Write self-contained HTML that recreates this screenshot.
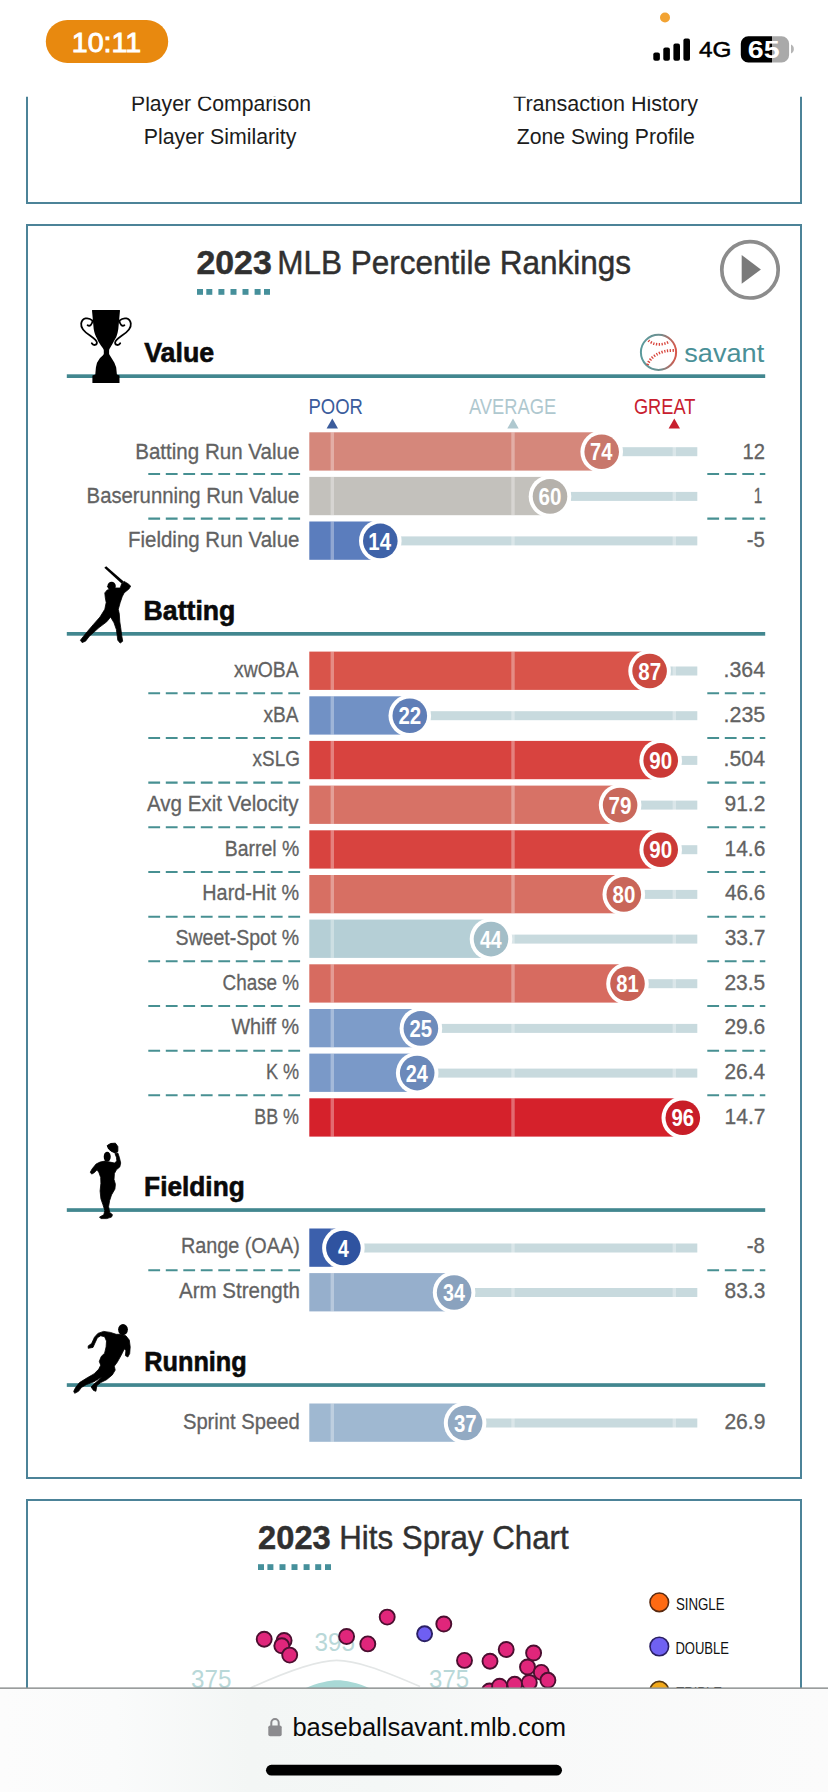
<!DOCTYPE html>
<html lang="en"><head><meta charset="utf-8"><title>Baseball Savant</title>
<style>
html,body{margin:0;padding:0;background:#fff;}
body{width:828px;height:1792px;overflow:hidden;position:relative;}
svg{display:block;position:absolute;left:0;top:0;}
text{font-family:"Liberation Sans",sans-serif;}
</style></head><body>
<svg width="828" height="1792" viewBox="0 0 828 1792">
<defs><linearGradient id="ballg" x1="0" y1="0" x2="1" y2="0"><stop offset="0" stop-color="#5a9a9c"/><stop offset="0.55" stop-color="#6e8f90"/><stop offset="1" stop-color="#d8574a"/></linearGradient><linearGradient id="barg" x1="0" y1="0" x2="1" y2="0"><stop offset="0" stop-color="#fcfcfc"/><stop offset="0.14" stop-color="#fafbfb"/><stop offset="0.3" stop-color="#f3f6f5"/><stop offset="0.46" stop-color="#f4f7f6"/><stop offset="0.62" stop-color="#f8f9f9"/><stop offset="1" stop-color="#fbfbfb"/></linearGradient><clipPath id="pageclip"><rect x="0" y="96.8" width="828" height="1591.4"/></clipPath></defs>
<rect width="828" height="1792" fill="#fff"/>
<g clip-path="url(#pageclip)">
<path d="M27 90V202.9H801V90" fill="none" stroke="#4c8398" stroke-width="2"/>
<rect x="27" y="225" width="774" height="1253" fill="none" stroke="#4c8398" stroke-width="2"/>
<path d="M27 1700V1500H801V1700" fill="none" stroke="#4c8398" stroke-width="2"/>
<text x="131.0" y="110.7" font-size="22" fill="#1c1c1c" textLength="180.1" lengthAdjust="spacingAndGlyphs">Player Comparison</text>
<text x="143.7" y="143.8" font-size="22" fill="#1c1c1c" textLength="152.7" lengthAdjust="spacingAndGlyphs">Player Similarity</text>
<text x="513.0" y="110.7" font-size="22" fill="#1c1c1c" textLength="185.0" lengthAdjust="spacingAndGlyphs">Transaction History</text>
<text x="516.8" y="143.8" font-size="22" fill="#1c1c1c" textLength="178.1" lengthAdjust="spacingAndGlyphs">Zone Swing Profile</text>
</g>
<text x="196.4" y="274.0" font-size="34" font-weight="700" fill="#303030" textLength="75.4" lengthAdjust="spacingAndGlyphs" stroke="#303030" stroke-width="0.5">2023</text>
<text x="277.2" y="274.0" font-size="34" fill="#303030" textLength="353.9" lengthAdjust="spacingAndGlyphs" stroke="#303030" stroke-width="0.45">MLB Percentile Rankings</text>
<rect x="197.0" y="289" width="6" height="5.8" fill="#46909b"/>
<rect x="206.3" y="289" width="6" height="5.8" fill="#46909b"/>
<rect x="218.4" y="289" width="6" height="5.8" fill="#46909b"/>
<rect x="230.5" y="289" width="6" height="5.8" fill="#46909b"/>
<rect x="242.5" y="289" width="6" height="5.8" fill="#46909b"/>
<rect x="254.6" y="289" width="6" height="5.8" fill="#46909b"/>
<rect x="264.0" y="289" width="6" height="5.8" fill="#46909b"/>
<circle cx="750" cy="269.8" r="28.2" fill="none" stroke="#8c8c8c" stroke-width="3.7"/>
<path d="M741.7 255.1L760.9 269.4L741.7 283.7Z" fill="#7a7a7a"/>
<rect x="66.8" y="374.3" width="698.4" height="3.7" fill="#42878f"/>
<text x="144.2" y="361.8" font-size="28" font-weight="700" fill="#0a0a0a" textLength="70.0" lengthAdjust="spacingAndGlyphs" stroke="#0a0a0a" stroke-width="0.6">Value</text>
<text x="308.5" y="413.8" font-size="22" fill="#3b5c9c" textLength="54.4" lengthAdjust="spacingAndGlyphs">POOR</text>
<text x="469.0" y="413.8" font-size="22" fill="#afc8cf" textLength="87.3" lengthAdjust="spacingAndGlyphs">AVERAGE</text>
<text x="633.9" y="413.8" font-size="22" fill="#c8202f" textLength="61.5" lengthAdjust="spacingAndGlyphs">GREAT</text>
<path d="M326.6 428.4L332.3 418.6L338.0 428.4Z" fill="#3b5c9c"/>
<path d="M507.3 428.4L513.0 418.6L518.7 428.4Z" fill="#afc8cf"/>
<path d="M668.6 428.4L674.3 418.6L680.0 428.4Z" fill="#c8202f"/>
<rect x="601.7" y="447.2" width="95.6" height="9" fill="#c8dade"/>
<rect x="309.3" y="432.3" width="292.4" height="38.3" fill="#d5877b"/>
<rect x="330.6" y="432.3" width="3.4" height="38.3" fill="#fff" fill-opacity="0.33"/>
<rect x="511.3" y="432.3" width="3.4" height="38.3" fill="#fff" fill-opacity="0.33"/>
<rect x="672.6" y="432.3" width="3.4" height="38.3" fill="#fff" fill-opacity="0.33"/>
<circle cx="601.7" cy="451.8" r="21.3" fill="#fff"/>
<circle cx="601.7" cy="451.8" r="17.3" fill="#c8776b"/>
<text x="590.1" y="460.4" font-size="23" font-weight="700" fill="#fff" textLength="22.3" lengthAdjust="spacingAndGlyphs">74</text>
<text x="135.2" y="458.9" font-size="22.6" fill="#626262" textLength="164.2" lengthAdjust="spacingAndGlyphs" stroke="#626262" stroke-width="0.3">Batting Run Value</text>
<text x="742.6" y="458.9" font-size="22.6" fill="#626262" textLength="22.5" lengthAdjust="spacingAndGlyphs" stroke="#626262" stroke-width="0.3">12</text>
<path d="M148.3 474.0H300.3M707.3 474.0H765.3" stroke="#479092" stroke-width="2.1" stroke-dasharray="11.8 5.7" fill="none"/>
<rect x="550.0" y="491.9" width="147.3" height="9" fill="#c8dade"/>
<rect x="309.3" y="476.9" width="240.7" height="38.3" fill="#c3c1bc"/>
<rect x="330.6" y="476.9" width="3.4" height="38.3" fill="#fff" fill-opacity="0.33"/>
<rect x="511.3" y="476.9" width="3.4" height="38.3" fill="#fff" fill-opacity="0.33"/>
<rect x="672.6" y="476.9" width="3.4" height="38.3" fill="#fff" fill-opacity="0.33"/>
<circle cx="550.0" cy="496.4" r="21.3" fill="#fff"/>
<circle cx="550.0" cy="496.4" r="17.3" fill="#b5b1ab"/>
<text x="538.6" y="505.0" font-size="23" font-weight="700" fill="#fff" textLength="22.9" lengthAdjust="spacingAndGlyphs">60</text>
<text x="86.6" y="503.0" font-size="22.6" fill="#626262" textLength="212.8" lengthAdjust="spacingAndGlyphs" stroke="#626262" stroke-width="0.3">Baserunning Run Value</text>
<text x="753.8" y="503.0" font-size="22.6" fill="#626262" textLength="8.5" lengthAdjust="spacingAndGlyphs" stroke="#626262" stroke-width="0.3">1</text>
<path d="M148.3 518.6H300.3M707.3 518.6H765.3" stroke="#479092" stroke-width="2.1" stroke-dasharray="11.8 5.7" fill="none"/>
<rect x="380.3" y="536.4" width="317.0" height="9" fill="#c8dade"/>
<rect x="309.3" y="521.5" width="71.0" height="38.3" fill="#5b7dbd"/>
<rect x="330.6" y="521.5" width="3.4" height="38.3" fill="#fff" fill-opacity="0.33"/>
<rect x="511.3" y="521.5" width="3.4" height="38.3" fill="#fff" fill-opacity="0.33"/>
<rect x="672.6" y="521.5" width="3.4" height="38.3" fill="#fff" fill-opacity="0.33"/>
<circle cx="380.3" cy="540.9" r="21.3" fill="#fff"/>
<circle cx="380.3" cy="540.9" r="17.3" fill="#3e62a8"/>
<text x="368.3" y="549.5" font-size="23" font-weight="700" fill="#fff" textLength="22.7" lengthAdjust="spacingAndGlyphs">14</text>
<text x="128.0" y="547.2" font-size="22.6" fill="#626262" textLength="171.4" lengthAdjust="spacingAndGlyphs" stroke="#626262" stroke-width="0.3">Fielding Run Value</text>
<text x="746.8" y="547.2" font-size="22.6" fill="#626262" textLength="18.1" lengthAdjust="spacingAndGlyphs" stroke="#626262" stroke-width="0.3">-5</text>
<rect x="66.8" y="632.0" width="698.4" height="3.7" fill="#42878f"/>
<text x="143.6" y="620.2" font-size="28" font-weight="700" fill="#0a0a0a" textLength="91.8" lengthAdjust="spacingAndGlyphs" stroke="#0a0a0a" stroke-width="0.6">Batting</text>
<rect x="649.6" y="666.5" width="47.7" height="9" fill="#c8dade"/>
<rect x="309.3" y="651.6" width="340.3" height="38.3" fill="#d9544a"/>
<rect x="330.6" y="651.6" width="3.4" height="38.3" fill="#fff" fill-opacity="0.33"/>
<rect x="511.3" y="651.6" width="3.4" height="38.3" fill="#fff" fill-opacity="0.33"/>
<rect x="672.6" y="651.6" width="3.4" height="38.3" fill="#fff" fill-opacity="0.33"/>
<circle cx="649.6" cy="671.0" r="21.3" fill="#fff"/>
<circle cx="649.6" cy="671.0" r="17.3" fill="#cb4a40"/>
<text x="638.3" y="679.6" font-size="23" font-weight="700" fill="#fff" textLength="22.9" lengthAdjust="spacingAndGlyphs">87</text>
<text x="234.1" y="676.9" font-size="22.6" fill="#626262" textLength="64.5" lengthAdjust="spacingAndGlyphs" stroke="#626262" stroke-width="0.3">xwOBA</text>
<text x="723.6" y="676.9" font-size="22.6" fill="#626262" textLength="41.5" lengthAdjust="spacingAndGlyphs" stroke="#626262" stroke-width="0.3">.364</text>
<path d="M148.3 693.3H300.3M707.3 693.3H765.3" stroke="#479092" stroke-width="2.1" stroke-dasharray="11.8 5.7" fill="none"/>
<rect x="409.8" y="711.2" width="287.5" height="9" fill="#c8dade"/>
<rect x="309.3" y="696.3" width="100.5" height="38.3" fill="#7191c5"/>
<rect x="330.6" y="696.3" width="3.4" height="38.3" fill="#fff" fill-opacity="0.33"/>
<rect x="511.3" y="696.3" width="3.4" height="38.3" fill="#fff" fill-opacity="0.33"/>
<rect x="672.6" y="696.3" width="3.4" height="38.3" fill="#fff" fill-opacity="0.33"/>
<circle cx="409.8" cy="715.7" r="21.3" fill="#fff"/>
<circle cx="409.8" cy="715.7" r="17.3" fill="#5f7eb7"/>
<text x="398.4" y="724.3" font-size="23" font-weight="700" fill="#fff" textLength="22.8" lengthAdjust="spacingAndGlyphs">22</text>
<text x="263.5" y="721.6" font-size="22.6" fill="#626262" textLength="35.1" lengthAdjust="spacingAndGlyphs" stroke="#626262" stroke-width="0.3">xBA</text>
<text x="723.5" y="721.6" font-size="22.6" fill="#626262" textLength="41.8" lengthAdjust="spacingAndGlyphs" stroke="#626262" stroke-width="0.3">.235</text>
<path d="M148.3 738.0H300.3M707.3 738.0H765.3" stroke="#479092" stroke-width="2.1" stroke-dasharray="11.8 5.7" fill="none"/>
<rect x="660.7" y="755.9" width="36.6" height="9" fill="#c8dade"/>
<rect x="309.3" y="740.9" width="351.4" height="38.3" fill="#d8433f"/>
<rect x="330.6" y="740.9" width="3.4" height="38.3" fill="#fff" fill-opacity="0.33"/>
<rect x="511.3" y="740.9" width="3.4" height="38.3" fill="#fff" fill-opacity="0.33"/>
<rect x="672.6" y="740.9" width="3.4" height="38.3" fill="#fff" fill-opacity="0.33"/>
<circle cx="660.7" cy="760.4" r="21.3" fill="#fff"/>
<circle cx="660.7" cy="760.4" r="17.3" fill="#cb3936"/>
<text x="649.3" y="769.0" font-size="23" font-weight="700" fill="#fff" textLength="22.9" lengthAdjust="spacingAndGlyphs">90</text>
<text x="252.6" y="766.2" font-size="22.6" fill="#626262" textLength="47.3" lengthAdjust="spacingAndGlyphs" stroke="#626262" stroke-width="0.3">xSLG</text>
<text x="723.6" y="766.2" font-size="22.6" fill="#626262" textLength="41.5" lengthAdjust="spacingAndGlyphs" stroke="#626262" stroke-width="0.3">.504</text>
<path d="M148.3 782.6H300.3M707.3 782.6H765.3" stroke="#479092" stroke-width="2.1" stroke-dasharray="11.8 5.7" fill="none"/>
<rect x="620.1" y="800.6" width="77.2" height="9" fill="#c8dade"/>
<rect x="309.3" y="785.6" width="310.8" height="38.3" fill="#d77266"/>
<rect x="330.6" y="785.6" width="3.4" height="38.3" fill="#fff" fill-opacity="0.33"/>
<rect x="511.3" y="785.6" width="3.4" height="38.3" fill="#fff" fill-opacity="0.33"/>
<rect x="672.6" y="785.6" width="3.4" height="38.3" fill="#fff" fill-opacity="0.33"/>
<circle cx="620.1" cy="805.1" r="21.3" fill="#fff"/>
<circle cx="620.1" cy="805.1" r="17.3" fill="#c9695c"/>
<text x="608.6" y="813.7" font-size="23" font-weight="700" fill="#fff" textLength="23.0" lengthAdjust="spacingAndGlyphs">79</text>
<text x="147.0" y="810.9" font-size="22.6" fill="#626262" textLength="151.6" lengthAdjust="spacingAndGlyphs" stroke="#626262" stroke-width="0.3">Avg Exit Velocity</text>
<text x="724.5" y="810.9" font-size="22.6" fill="#626262" textLength="40.9" lengthAdjust="spacingAndGlyphs" stroke="#626262" stroke-width="0.3">91.2</text>
<path d="M148.3 827.3H300.3M707.3 827.3H765.3" stroke="#479092" stroke-width="2.1" stroke-dasharray="11.8 5.7" fill="none"/>
<rect x="660.7" y="845.2" width="36.6" height="9" fill="#c8dade"/>
<rect x="309.3" y="830.3" width="351.4" height="38.3" fill="#d8433f"/>
<rect x="330.6" y="830.3" width="3.4" height="38.3" fill="#fff" fill-opacity="0.33"/>
<rect x="511.3" y="830.3" width="3.4" height="38.3" fill="#fff" fill-opacity="0.33"/>
<rect x="672.6" y="830.3" width="3.4" height="38.3" fill="#fff" fill-opacity="0.33"/>
<circle cx="660.7" cy="849.7" r="21.3" fill="#fff"/>
<circle cx="660.7" cy="849.7" r="17.3" fill="#cb3936"/>
<text x="649.3" y="858.3" font-size="23" font-weight="700" fill="#fff" textLength="22.9" lengthAdjust="spacingAndGlyphs">90</text>
<text x="224.7" y="855.6" font-size="22.6" fill="#626262" textLength="74.5" lengthAdjust="spacingAndGlyphs" stroke="#626262" stroke-width="0.3">Barrel %</text>
<text x="724.6" y="855.6" font-size="22.6" fill="#626262" textLength="40.7" lengthAdjust="spacingAndGlyphs" stroke="#626262" stroke-width="0.3">14.6</text>
<path d="M148.3 872.0H300.3M707.3 872.0H765.3" stroke="#479092" stroke-width="2.1" stroke-dasharray="11.8 5.7" fill="none"/>
<rect x="623.8" y="889.9" width="73.5" height="9" fill="#c8dade"/>
<rect x="309.3" y="875.0" width="314.5" height="38.3" fill="#d76f63"/>
<rect x="330.6" y="875.0" width="3.4" height="38.3" fill="#fff" fill-opacity="0.33"/>
<rect x="511.3" y="875.0" width="3.4" height="38.3" fill="#fff" fill-opacity="0.33"/>
<rect x="672.6" y="875.0" width="3.4" height="38.3" fill="#fff" fill-opacity="0.33"/>
<circle cx="623.8" cy="894.4" r="21.3" fill="#fff"/>
<circle cx="623.8" cy="894.4" r="17.3" fill="#c96659"/>
<text x="612.5" y="903.0" font-size="23" font-weight="700" fill="#fff" textLength="22.8" lengthAdjust="spacingAndGlyphs">80</text>
<text x="202.3" y="900.2" font-size="22.6" fill="#626262" textLength="96.9" lengthAdjust="spacingAndGlyphs" stroke="#626262" stroke-width="0.3">Hard-Hit %</text>
<text x="725.0" y="900.2" font-size="22.6" fill="#626262" textLength="40.3" lengthAdjust="spacingAndGlyphs" stroke="#626262" stroke-width="0.3">46.6</text>
<path d="M148.3 916.7H300.3M707.3 916.7H765.3" stroke="#479092" stroke-width="2.1" stroke-dasharray="11.8 5.7" fill="none"/>
<rect x="491.0" y="934.6" width="206.3" height="9" fill="#c8dade"/>
<rect x="309.3" y="919.6" width="181.7" height="38.3" fill="#b5cfd6"/>
<rect x="330.6" y="919.6" width="3.4" height="38.3" fill="#fff" fill-opacity="0.33"/>
<rect x="511.3" y="919.6" width="3.4" height="38.3" fill="#fff" fill-opacity="0.33"/>
<rect x="672.6" y="919.6" width="3.4" height="38.3" fill="#fff" fill-opacity="0.33"/>
<circle cx="491.0" cy="939.1" r="21.3" fill="#fff"/>
<circle cx="491.0" cy="939.1" r="17.3" fill="#a3bec8"/>
<text x="480.0" y="947.7" font-size="23" font-weight="700" fill="#fff" textLength="21.7" lengthAdjust="spacingAndGlyphs">44</text>
<text x="175.4" y="944.9" font-size="22.6" fill="#626262" textLength="123.8" lengthAdjust="spacingAndGlyphs" stroke="#626262" stroke-width="0.3">Sweet-Spot %</text>
<text x="724.7" y="944.9" font-size="22.6" fill="#626262" textLength="40.8" lengthAdjust="spacingAndGlyphs" stroke="#626262" stroke-width="0.3">33.7</text>
<path d="M148.3 961.3H300.3M707.3 961.3H765.3" stroke="#479092" stroke-width="2.1" stroke-dasharray="11.8 5.7" fill="none"/>
<rect x="627.5" y="979.2" width="69.8" height="9" fill="#c8dade"/>
<rect x="309.3" y="964.3" width="318.2" height="38.3" fill="#d76b60"/>
<rect x="330.6" y="964.3" width="3.4" height="38.3" fill="#fff" fill-opacity="0.33"/>
<rect x="511.3" y="964.3" width="3.4" height="38.3" fill="#fff" fill-opacity="0.33"/>
<rect x="672.6" y="964.3" width="3.4" height="38.3" fill="#fff" fill-opacity="0.33"/>
<circle cx="627.5" cy="983.7" r="21.3" fill="#fff"/>
<circle cx="627.5" cy="983.7" r="17.3" fill="#c96256"/>
<text x="616.2" y="992.3" font-size="23" font-weight="700" fill="#fff" textLength="22.5" lengthAdjust="spacingAndGlyphs">81</text>
<text x="222.5" y="989.6" font-size="22.6" fill="#626262" textLength="76.6" lengthAdjust="spacingAndGlyphs" stroke="#626262" stroke-width="0.3">Chase %</text>
<text x="724.4" y="989.6" font-size="22.6" fill="#626262" textLength="40.8" lengthAdjust="spacingAndGlyphs" stroke="#626262" stroke-width="0.3">23.5</text>
<path d="M148.3 1006.0H300.3M707.3 1006.0H765.3" stroke="#479092" stroke-width="2.1" stroke-dasharray="11.8 5.7" fill="none"/>
<rect x="420.9" y="1023.9" width="276.4" height="9" fill="#c8dade"/>
<rect x="309.3" y="1009.0" width="111.6" height="38.3" fill="#7d9cc9"/>
<rect x="330.6" y="1009.0" width="3.4" height="38.3" fill="#fff" fill-opacity="0.33"/>
<rect x="511.3" y="1009.0" width="3.4" height="38.3" fill="#fff" fill-opacity="0.33"/>
<rect x="672.6" y="1009.0" width="3.4" height="38.3" fill="#fff" fill-opacity="0.33"/>
<circle cx="420.9" cy="1028.4" r="21.3" fill="#fff"/>
<circle cx="420.9" cy="1028.4" r="17.3" fill="#6e8cbc"/>
<text x="409.5" y="1037.0" font-size="23" font-weight="700" fill="#fff" textLength="22.6" lengthAdjust="spacingAndGlyphs">25</text>
<text x="231.4" y="1034.3" font-size="22.6" fill="#626262" textLength="67.8" lengthAdjust="spacingAndGlyphs" stroke="#626262" stroke-width="0.3">Whiff %</text>
<text x="724.4" y="1034.3" font-size="22.6" fill="#626262" textLength="40.9" lengthAdjust="spacingAndGlyphs" stroke="#626262" stroke-width="0.3">29.6</text>
<path d="M148.3 1050.7H300.3M707.3 1050.7H765.3" stroke="#479092" stroke-width="2.1" stroke-dasharray="11.8 5.7" fill="none"/>
<rect x="417.2" y="1068.6" width="280.1" height="9" fill="#c8dade"/>
<rect x="309.3" y="1053.6" width="107.9" height="38.3" fill="#7a99c8"/>
<rect x="330.6" y="1053.6" width="3.4" height="38.3" fill="#fff" fill-opacity="0.33"/>
<rect x="511.3" y="1053.6" width="3.4" height="38.3" fill="#fff" fill-opacity="0.33"/>
<rect x="672.6" y="1053.6" width="3.4" height="38.3" fill="#fff" fill-opacity="0.33"/>
<circle cx="417.2" cy="1073.1" r="21.3" fill="#fff"/>
<circle cx="417.2" cy="1073.1" r="17.3" fill="#6b89ba"/>
<text x="405.8" y="1081.7" font-size="23" font-weight="700" fill="#fff" textLength="22.1" lengthAdjust="spacingAndGlyphs">24</text>
<text x="265.9" y="1078.9" font-size="22.6" fill="#626262" textLength="33.2" lengthAdjust="spacingAndGlyphs" stroke="#626262" stroke-width="0.3">K %</text>
<text x="724.5" y="1078.9" font-size="22.6" fill="#626262" textLength="40.6" lengthAdjust="spacingAndGlyphs" stroke="#626262" stroke-width="0.3">26.4</text>
<path d="M148.3 1095.3H300.3M707.3 1095.3H765.3" stroke="#479092" stroke-width="2.1" stroke-dasharray="11.8 5.7" fill="none"/>
<rect x="682.8" y="1113.3" width="14.5" height="9" fill="#c8dade"/>
<rect x="309.3" y="1098.3" width="373.5" height="38.3" fill="#d5212b"/>
<rect x="330.6" y="1098.3" width="3.4" height="38.3" fill="#fff" fill-opacity="0.33"/>
<rect x="511.3" y="1098.3" width="3.4" height="38.3" fill="#fff" fill-opacity="0.33"/>
<rect x="672.6" y="1098.3" width="3.4" height="38.3" fill="#fff" fill-opacity="0.33"/>
<circle cx="682.8" cy="1117.8" r="21.3" fill="#fff"/>
<circle cx="682.8" cy="1117.8" r="17.3" fill="#c81e28"/>
<text x="671.5" y="1126.4" font-size="23" font-weight="700" fill="#fff" textLength="22.7" lengthAdjust="spacingAndGlyphs">96</text>
<text x="254.2" y="1123.6" font-size="22.6" fill="#626262" textLength="44.9" lengthAdjust="spacingAndGlyphs" stroke="#626262" stroke-width="0.3">BB %</text>
<text x="724.6" y="1123.6" font-size="22.6" fill="#626262" textLength="40.9" lengthAdjust="spacingAndGlyphs" stroke="#626262" stroke-width="0.3">14.7</text>
<rect x="66.8" y="1208.2" width="698.4" height="3.7" fill="#42878f"/>
<text x="144.1" y="1196.1" font-size="28" font-weight="700" fill="#0a0a0a" textLength="100.6" lengthAdjust="spacingAndGlyphs" stroke="#0a0a0a" stroke-width="0.6">Fielding</text>
<rect x="343.4" y="1243.5" width="353.9" height="9" fill="#c8dade"/>
<rect x="309.3" y="1228.5" width="34.1" height="38.3" fill="#3c60ac"/>
<rect x="330.6" y="1228.5" width="3.4" height="38.3" fill="#fff" fill-opacity="0.33"/>
<rect x="511.3" y="1228.5" width="3.4" height="38.3" fill="#fff" fill-opacity="0.33"/>
<rect x="672.6" y="1228.5" width="3.4" height="38.3" fill="#fff" fill-opacity="0.33"/>
<circle cx="343.4" cy="1248.0" r="21.3" fill="#fff"/>
<circle cx="343.4" cy="1248.0" r="17.3" fill="#2f53a0"/>
<text x="337.9" y="1256.5" font-size="23" font-weight="700" fill="#fff" textLength="10.8" lengthAdjust="spacingAndGlyphs">4</text>
<text x="180.9" y="1253.4" font-size="22.6" fill="#626262" textLength="118.9" lengthAdjust="spacingAndGlyphs" stroke="#626262" stroke-width="0.3">Range (OAA)</text>
<text x="746.8" y="1253.4" font-size="22.6" fill="#626262" textLength="18.1" lengthAdjust="spacingAndGlyphs" stroke="#626262" stroke-width="0.3">-8</text>
<path d="M148.3 1270.2H300.3M707.3 1270.2H765.3" stroke="#479092" stroke-width="2.1" stroke-dasharray="11.8 5.7" fill="none"/>
<rect x="454.1" y="1288.0" width="243.2" height="9" fill="#c8dade"/>
<rect x="309.3" y="1273.1" width="144.8" height="38.3" fill="#96afcc"/>
<rect x="330.6" y="1273.1" width="3.4" height="38.3" fill="#fff" fill-opacity="0.33"/>
<rect x="511.3" y="1273.1" width="3.4" height="38.3" fill="#fff" fill-opacity="0.33"/>
<rect x="672.6" y="1273.1" width="3.4" height="38.3" fill="#fff" fill-opacity="0.33"/>
<circle cx="454.1" cy="1292.5" r="21.3" fill="#fff"/>
<circle cx="454.1" cy="1292.5" r="17.3" fill="#8aa2be"/>
<text x="443.0" y="1301.1" font-size="23" font-weight="700" fill="#fff" textLength="21.9" lengthAdjust="spacingAndGlyphs">34</text>
<text x="179.0" y="1298.4" font-size="22.6" fill="#626262" textLength="120.9" lengthAdjust="spacingAndGlyphs" stroke="#626262" stroke-width="0.3">Arm Strength</text>
<text x="724.6" y="1298.4" font-size="22.6" fill="#626262" textLength="40.7" lengthAdjust="spacingAndGlyphs" stroke="#626262" stroke-width="0.3">83.3</text>
<rect x="66.8" y="1383.2" width="698.4" height="3.7" fill="#42878f"/>
<text x="144.2" y="1371.1" font-size="28" font-weight="700" fill="#0a0a0a" textLength="102.6" lengthAdjust="spacingAndGlyphs" stroke="#0a0a0a" stroke-width="0.6">Running</text>
<rect x="465.1" y="1418.5" width="232.2" height="9" fill="#c8dade"/>
<rect x="309.3" y="1403.5" width="155.8" height="38.3" fill="#9fb8d1"/>
<rect x="330.6" y="1403.5" width="3.4" height="38.3" fill="#fff" fill-opacity="0.33"/>
<rect x="511.3" y="1403.5" width="3.4" height="38.3" fill="#fff" fill-opacity="0.33"/>
<rect x="672.6" y="1403.5" width="3.4" height="38.3" fill="#fff" fill-opacity="0.33"/>
<circle cx="465.1" cy="1423.0" r="21.3" fill="#fff"/>
<circle cx="465.1" cy="1423.0" r="17.3" fill="#92aac3"/>
<text x="454.0" y="1431.5" font-size="23" font-weight="700" fill="#fff" textLength="22.7" lengthAdjust="spacingAndGlyphs">37</text>
<text x="182.9" y="1428.5" font-size="22.6" fill="#626262" textLength="116.9" lengthAdjust="spacingAndGlyphs" stroke="#626262" stroke-width="0.3">Sprint Speed</text>
<text x="724.4" y="1428.5" font-size="22.6" fill="#626262" textLength="41.0" lengthAdjust="spacingAndGlyphs" stroke="#626262" stroke-width="0.3">26.9</text>
<path d="M92.4 310.1 Q92 310.1 92 310.6 L93.7 329 C94.3 333 95.5 336 97 338.6 C98 341 99 343 100.9 345.4 C102 347 103.8 349 103.8 350.2 L103.8 354.1 C103 356 101 357 100 358 L97 362.8 L95.9 367.6 L95.3 374.4 L92.4 375.4 V383.1 H119.5 V375.4 L116.9 374.4 L116.2 367.6 L114.4 362.8 L111.5 358 C111 357 110 356 109.1 354.1 L109.1 350.2 C109.1 349 110 348 111.5 345.4 C112.5 344 113.5 342 115.4 338.6 C116.5 337 117.5 334 118.3 329 L120 310.6 Q120 310.1 119.6 310.1 Z" fill="#000"/>
<path d="M92.6 320.6 C88 316.6 82 318 81.2 323.5 C80.5 329 86 333 90 335.5 C93 337.5 96.6 339.5 96.9 342.5 C97 345.2 93.3 346 91.8 343.3 M92.6 320.6 C92.3 324 90 327 87.6 325.2" fill="none" stroke="#000" stroke-width="1.8" stroke-linecap="round"/>
<path d="M92.6 320.6 C88 316.6 82 318 81.2 323.5 C80.5 329 86 333 90 335.5 C93 337.5 96.6 339.5 96.9 342.5 C97 345.2 93.3 346 91.8 343.3 M92.6 320.6 C92.3 324 90 327 87.6 325.2" fill="none" stroke="#000" stroke-width="1.8" stroke-linecap="round" transform="translate(212 0) scale(-1 1)"/>
<path d="M104.3 567.7 L106.2 566.2 L123.7 581.6 L121.8 583.8Z" fill="#000"/>
<ellipse cx="111.6" cy="586" rx="4.2" ry="4.3" fill="#000"/>
<path d="M106.6 586.5 L111 584.5 L111 588 Z" fill="#000"/>
<path d="M111.5 589.0 L115.4 588.0 L120.2 588.0 L121.7 583.7 L124.1 581.4 L128.0 583.7 L130.7 586.1 L128.9 589.0 L124.1 592.9 L122.2 596.7 L120.2 602.5 L118.3 609.3 L119.3 614.1 L119.8 621.8 L120.7 627.6 L121.7 635.4 L122.7 641.2 L120.2 643.1 L117.8 640.2 L116.4 629.6 L114.0 622.8 L110.6 617.0 L106.7 621.8 L99.0 627.6 L89.3 636.3 L85.5 641.2 L82.1 642.6 L80.4 640.2 L83.5 636.3 L87.4 631.5 L93.2 624.7 L100.0 617.0 L104.8 609.3 L106.2 602.5 L105.3 597.7 L104.8 592.9 L107.2 590.0Z" fill="#000" stroke="#000" stroke-width="0.8" stroke-linejoin="round"/>
<path d="M107.2 1145.6 L110.6 1143.5 L115.4 1143.2 L117.8 1146.6 L117.8 1151.4 L115.4 1152.9 L111.5 1151.4 L108.6 1149.0Z" fill="#000" stroke="#000" stroke-width="1" stroke-linejoin="round"/>
<ellipse cx="107.2" cy="1156.7" rx="3.5" ry="4.9" fill="#000"/>
<path d="M104.8 1161.1 L110.1 1162.1 L114.4 1163.0 L116.9 1161.1 L116.4 1157.2 L114.9 1153.4 L117.8 1152.9 L119.3 1157.2 L120.7 1163.0 L119.8 1166.9 L116.4 1169.8 L114.4 1173.6 L114.0 1179.4 L115.4 1184.3 L114.9 1189.1 L111.5 1194.9 L109.6 1200.7 L108.6 1206.5 L109.6 1212.3 L112.5 1214.7 L111.5 1217.1 L106.7 1218.6 L100.9 1218.6 L99.5 1217.1 L103.8 1214.7 L104.8 1210.4 L102.9 1204.6 L100.9 1198.8 L100.1 1191.0 L100.9 1183.3 L100.7 1177.5 L99.0 1172.7 L97.1 1169.8 L94.2 1172.7 L91.7 1174.1 L90.3 1172.2 L92.2 1168.8 L96.1 1164.0 L100.0 1162.1Z" fill="#000" stroke="#000" stroke-width="0.8" stroke-linejoin="round"/>
<ellipse cx="123" cy="1329.6" rx="4.9" ry="5.6" fill="#000"/>
<path d="M120.1 1334.3 L125.9 1335.8 L129.3 1340.1 L130.2 1346.9 L129.7 1353.6 L127.8 1357.0 L125.4 1355.6 L125.9 1350.7 L124.4 1348.8 L121.0 1355.6 L117.2 1362.3 L114.3 1366.2 L115.2 1370.1 L112.3 1374.9 L106.5 1379.7 L100.7 1382.6 L96.9 1385.5 L95.9 1391.3 L93.5 1390.4 L91.1 1387.0 L94.0 1384.1 L97.9 1380.7 L101.7 1376.8 L94.0 1381.7 L86.3 1384.6 L81.4 1387.5 L78.5 1391.3 L74.7 1393.3 L73.7 1391.3 L75.6 1387.5 L79.5 1382.6 L87.2 1377.8 L94.0 1373.9 L98.8 1369.1 L100.7 1365.2 L99.3 1361.4 L101.2 1356.5 L104.6 1353.2 L106.1 1346.9 L106.5 1341.1 L104.6 1336.7 L100.7 1335.8 L97.4 1337.7 L94.5 1344.0 L93.0 1347.4 L88.2 1348.3 L88.2 1345.9 L91.6 1343.5 L94.5 1337.2 L97.9 1333.4 L103.6 1331.4 L110.4 1332.4 L116.2 1334.3Z" fill="#000" stroke="#000" stroke-width="0.8" stroke-linejoin="round"/>
<circle cx="658.5" cy="352.3" r="17.6" fill="#fff" stroke="url(#ballg)" stroke-width="2"/>
<path d="M648.5 340.5 C653 345 662 346 669.5 341.5" fill="none" stroke="#d8453c" stroke-width="2.6" stroke-dasharray="1.3 1.5"/>
<path d="M647.5 365 C650 357 660 350 674 350.5" fill="none" stroke="#d8453c" stroke-width="2.8" stroke-dasharray="1.3 1.5"/>
<text x="684.3" y="362.2" font-size="25.5" fill="#4a9097" textLength="79.9" lengthAdjust="spacingAndGlyphs">savant</text>
<g clip-path="url(#pageclip)">
<text x="258.1" y="1549.0" font-size="34" font-weight="700" fill="#303030" textLength="72.6" lengthAdjust="spacingAndGlyphs" stroke="#303030" stroke-width="0.5">2023</text>
<text x="339.2" y="1549.0" font-size="34" fill="#303030" textLength="229.5" lengthAdjust="spacingAndGlyphs" stroke="#303030" stroke-width="0.45">Hits Spray Chart</text>
<rect x="258.0" y="1564.2" width="6" height="5.8" fill="#46909b"/>
<rect x="267.4" y="1564.2" width="6" height="5.8" fill="#46909b"/>
<rect x="279.5" y="1564.2" width="6" height="5.8" fill="#46909b"/>
<rect x="291.5" y="1564.2" width="6" height="5.8" fill="#46909b"/>
<rect x="303.6" y="1564.2" width="6" height="5.8" fill="#46909b"/>
<rect x="315.2" y="1564.2" width="6" height="5.8" fill="#46909b"/>
<rect x="325.0" y="1564.2" width="6" height="5.8" fill="#46909b"/>
<path d="M250.4 1688 C290 1670 318 1660.5 336.7 1660.4 C355 1660.5 380 1669 420 1686.5" fill="none" stroke="#e3e6e6" stroke-width="1.6"/>
<path d="M303.5 1689 C318 1682.5 330 1680.3 337.4 1680.3 C345 1680.3 357 1682.5 371.3 1689 Z" fill="#a9d9d6"/>
<text x="191.1" y="1687.6" font-size="26" fill="#b9d8d8" textLength="40.4" lengthAdjust="spacingAndGlyphs">375</text>
<text x="429.1" y="1687.6" font-size="26" fill="#b9d8d8" textLength="39.9" lengthAdjust="spacingAndGlyphs">375</text>
<text x="314.6" y="1650.5" font-size="26" fill="#b9d8d8" textLength="40.4" lengthAdjust="spacingAndGlyphs">395</text>
<circle cx="264.2" cy="1639.2" r="7.5" fill="#e0267b" stroke="#4b0f30" stroke-width="1.9"/>
<circle cx="284.1" cy="1640.5" r="7.5" fill="#e0267b" stroke="#4b0f30" stroke-width="1.9"/>
<circle cx="281.8" cy="1645.8" r="7.5" fill="#e0267b" stroke="#4b0f30" stroke-width="1.9"/>
<circle cx="289.7" cy="1655.1" r="7.5" fill="#e0267b" stroke="#4b0f30" stroke-width="1.9"/>
<circle cx="346.6" cy="1636.5" r="7.5" fill="#e0267b" stroke="#4b0f30" stroke-width="1.9"/>
<circle cx="367.8" cy="1643.9" r="7.5" fill="#e0267b" stroke="#4b0f30" stroke-width="1.9"/>
<circle cx="387.2" cy="1617.1" r="7.5" fill="#e0267b" stroke="#4b0f30" stroke-width="1.9"/>
<circle cx="443.8" cy="1624" r="7.5" fill="#e0267b" stroke="#4b0f30" stroke-width="1.9"/>
<circle cx="464.5" cy="1660.4" r="7.5" fill="#e0267b" stroke="#4b0f30" stroke-width="1.9"/>
<circle cx="490" cy="1661.2" r="7.5" fill="#e0267b" stroke="#4b0f30" stroke-width="1.9"/>
<circle cx="506.2" cy="1649.5" r="7.5" fill="#e0267b" stroke="#4b0f30" stroke-width="1.9"/>
<circle cx="533.6" cy="1653" r="7.5" fill="#e0267b" stroke="#4b0f30" stroke-width="1.9"/>
<circle cx="527.5" cy="1667" r="7.5" fill="#e0267b" stroke="#4b0f30" stroke-width="1.9"/>
<circle cx="541.3" cy="1672.4" r="7.5" fill="#e0267b" stroke="#4b0f30" stroke-width="1.9"/>
<circle cx="489.5" cy="1691" r="7.5" fill="#e0267b" stroke="#4b0f30" stroke-width="1.9"/>
<circle cx="499.6" cy="1686.2" r="7.5" fill="#e0267b" stroke="#4b0f30" stroke-width="1.9"/>
<circle cx="514.7" cy="1684.3" r="7.5" fill="#e0267b" stroke="#4b0f30" stroke-width="1.9"/>
<circle cx="529.3" cy="1682.5" r="7.5" fill="#e0267b" stroke="#4b0f30" stroke-width="1.9"/>
<circle cx="547.9" cy="1680.3" r="7.5" fill="#e0267b" stroke="#4b0f30" stroke-width="1.9"/>
<circle cx="424.6" cy="1633.8" r="7.5" fill="#6f5ff2" stroke="#2b2065" stroke-width="1.9"/>
<circle cx="659.3" cy="1602.3" r="9.3" fill="#ff6a12" stroke="#5a2a10" stroke-width="1.6"/>
<circle cx="659.3" cy="1646.5" r="9.3" fill="#7061f2" stroke="#2b2065" stroke-width="1.6"/>
<circle cx="659.3" cy="1690.7" r="9.3" fill="#f2a91a" stroke="#5a3a10" stroke-width="1.6"/>
<text x="675.9" y="1610.2" font-size="16.5" fill="#111" textLength="48.7" lengthAdjust="spacingAndGlyphs">SINGLE</text>
<text x="675.4" y="1654.4" font-size="16.5" fill="#111" textLength="53.6" lengthAdjust="spacingAndGlyphs">DOUBLE</text>
<text x="676.2" y="1698.6" font-size="16.5" fill="#111" textLength="45.9" lengthAdjust="spacingAndGlyphs">TRIPLE</text>
</g>
<rect x="45.8" y="20" width="122.4" height="43" rx="21.5" fill="#e8890f"/>
<text x="71.8" y="52.2" font-size="28" fill="#fff" textLength="69.4" lengthAdjust="spacingAndGlyphs" stroke="#fff" stroke-width="0.9">10:11</text>
<circle cx="665" cy="17.5" r="5" fill="#f2a333"/>
<rect x="653.3" y="52.4" width="6.6" height="8.3" rx="2" fill="#000"/>
<rect x="663.3" y="47.6" width="6.6" height="13.1" rx="2" fill="#000"/>
<rect x="673.4" y="43.4" width="6.6" height="17.3" rx="2" fill="#000"/>
<rect x="683.4" y="38.4" width="6.6" height="22.3" rx="2" fill="#000"/>
<text x="699.0" y="57.0" font-size="22.5" fill="#000" textLength="32.4" lengthAdjust="spacingAndGlyphs" stroke="#000" stroke-width="0.5">4G</text>
<path d="M748.3 36.2 H772 V62.5 H748.3 A7.5 7.5 0 0 1 740.8 55 V43.7 A7.5 7.5 0 0 1 748.3 36.2Z" fill="#000"/>
<path d="M772 36.2 H781.6 A7.5 7.5 0 0 1 789.1 43.7 V55 A7.5 7.5 0 0 1 781.6 62.5 H772Z" fill="#a9a9a9"/>
<path d="M791 44.5 C794.8 46 794.8 52 791 53.5Z" fill="#b5b5b5"/>
<text x="747.8" y="57.8" font-size="23.5" font-weight="700" fill="#fff" textLength="31.8" lengthAdjust="spacingAndGlyphs">65</text>
<rect x="0" y="1688" width="828" height="104" fill="url(#barg)"/>
<rect x="0" y="1687.4" width="828" height="1.5" fill="#8f9393"/>
<rect x="268.3" y="1725.5" width="13.4" height="10.8" rx="1.8" fill="#8b8b8e"/>
<path d="M271.3 1726 V1722.8 A3.7 3.7 0 0 1 278.7 1722.8 V1726" fill="none" stroke="#8b8b8e" stroke-width="2"/>
<text x="292.4" y="1736.0" font-size="25" fill="#0a0a0a" textLength="273.7" lengthAdjust="spacingAndGlyphs">baseballsavant.mlb.com</text>
<rect x="266" y="1764.8" width="296" height="10.8" rx="5.4" fill="#000"/>
</svg>
</body></html>
